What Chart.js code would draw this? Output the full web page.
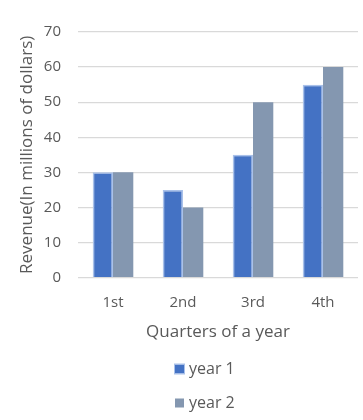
<!DOCTYPE html>
<html>
<head>
<meta charset="utf-8">
<script src="https://cdn.jsdelivr.net/npm/chart.js@4/dist/chart.umd.min.js"></script>
<style>
	html, body { margin: 0; padding: 0; background: #fff; }
	#wrap { width: 363px; height: 420px; position: relative; }
</style>
</head>
<body>
<div id="wrap"><canvas id="chart"></canvas></div>
<script>
(function () {
	'use strict';

	const quarters = ['1st', '2nd', '3rd', '4th'];
	const year1 = [30, 25, 35, 55];
	const year2 = [30, 20, 50, 60];
	const seriesNames = ['year 1', 'year 2'];

	const textColor = '#595959';
	const fontFamily = "'Open Sans', 'Noto Sans', sans-serif";

	// legend stacked under the axis title, one entry per line
	const stackedLegend = {
		id: 'stackedLegend',
		afterDraw(chart) {
			const ctx = chart.ctx;
			const lineY = [369, 403];
			ctx.save();
			ctx.font = '16px ' + fontFamily;
			ctx.textBaseline = 'middle';
			chart.data.datasets.forEach(function(ds, i) {
				const y = lineY[i];
				const x = 175;
				ctx.fillStyle = ds.backgroundColor;
				ctx.fillRect(x, y - 4.5, 9, 9);
				if (ds.borderWidth) {
					ctx.strokeStyle = ds.borderColor;
					ctx.lineWidth = 1;
					ctx.strokeRect(x - 0.5, y - 5, 10, 10);
				}
				ctx.fillStyle = textColor;
				ctx.fillText(ds.label, x + 14, y);
			});
			ctx.restore();
		}
	};

	new Chart(document.getElementById('chart'), {
		type: 'bar',
		data: {
			labels: quarters,
			datasets: [
				{
					label: seriesNames[0],
					data: year1,
					backgroundColor: '#4472C4',
					borderColor: '#A9C1EA',
					borderWidth: 1.5
				},
				{
					label: seriesNames[1],
					data: year2,
					backgroundColor: '#8497B0',
					borderWidth: 0
				}
			]
		},
		options: {
			responsive: true,
			maintainAspectRatio: false,
			animation: false,
			layout: {
				padding: { top: 32, right: 5, left: 17, bottom: 78 }
			},
			datasets: {
				bar: {
					categoryPercentage: 0.58,
					barPercentage: 1.0
				}
			},
			plugins: {
				legend: { display: false },
				tooltip: { enabled: false }
			},
			scales: {
				x: {
					grid: { display: false },
					border: { display: false },
					ticks: {
						color: textColor,
						font: { family: fontFamily, size: 15 },
						padding: 8
					},
					title: {
						display: true,
						text: 'Quarters of a year',
						color: textColor,
						font: { family: fontFamily, size: 17 },
						padding: { top: 2, bottom: 0 }
					}
				},
				y: {
					min: 0,
					max: 70,
					afterFit(scale) {
						scale.width = 61;
					},
					ticks: {
						stepSize: 10,
						color: textColor,
						font: { family: fontFamily, size: 15 },
						padding: 17
					},
					grid: {
						color: '#D9D9D9',
						lineWidth: 1.3,
						drawTicks: false
					},
					border: { display: false },
					title: {
						display: true,
						text: 'Revenue(In millions of dollars)',
						color: textColor,
						font: { family: fontFamily, size: 17 },
						padding: { top: 0, bottom: 6 }
					}
				}
			}
		},
		plugins: [stackedLegend]
	});
})();
</script>
</body>
</html>
